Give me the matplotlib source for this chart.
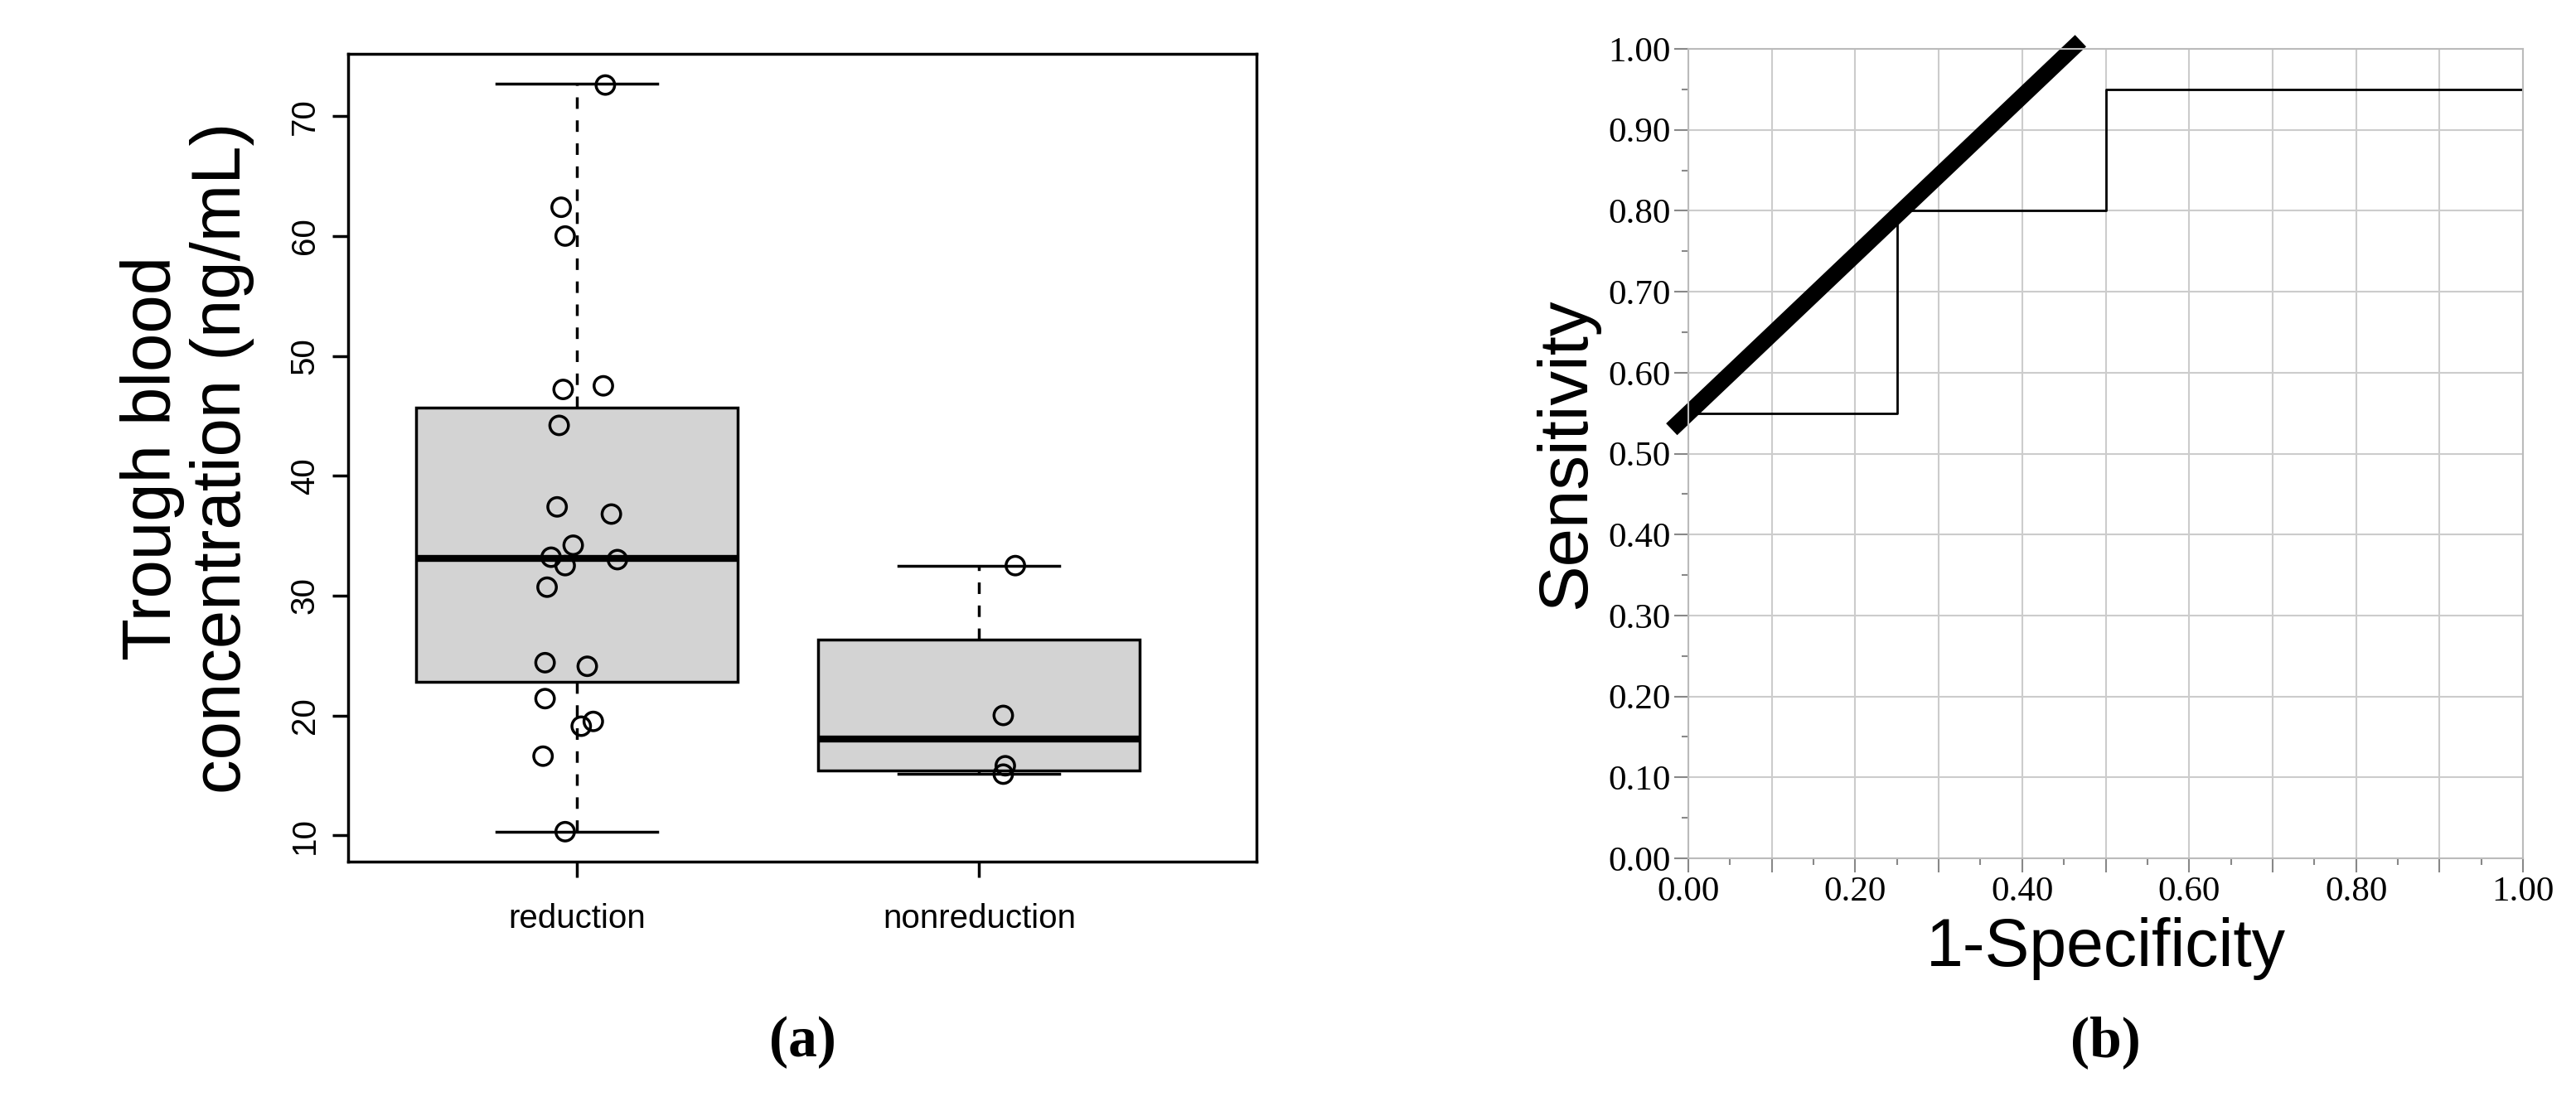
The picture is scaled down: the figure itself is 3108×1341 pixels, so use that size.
import numpy as np
import matplotlib.pyplot as plt

plt.rcParams['font.family'] = ['Liberation Sans', 'DejaVu Sans']

# panel (a) data
red_vals = [72.6, 62.4, 60.0, 47.2, 47.5, 44.2, 37.4, 36.8, 34.2, 33.2, 33.0, 32.5,
            30.7, 24.4, 24.1, 21.4, 19.5, 19.1, 16.6, 10.3]
red_jit = [0.07, -0.04, -0.03, -0.035, 0.065, -0.045, -0.05, 0.085, -0.01, -0.065, 0.1,
           -0.03, -0.075, -0.08, 0.025, -0.08, 0.04, 0.01, -0.085, -0.03]
non_vals = [32.5, 20.0, 15.8, 15.1]
non_jit = [0.09, 0.06, 0.065, 0.06]
groups = ["reduction", "nonreduction"]
stats = [dict(whislo=10.3, q1=22.8, med=33.1, q3=45.7, whishi=72.7, fliers=[]),
         dict(whislo=15.1, q1=15.4, med=18.0, q3=26.3, whishi=32.5, fliers=[])]

# panel (b) data
roc_x = [0.0, 0.25, 0.25, 0.5, 0.5, 1.0]
roc_y = [0.55, 0.55, 0.8, 0.8, 0.95, 0.95]
thick_x = [-0.02, 0.47]
thick_y = [0.53, 1.01]

fig = plt.figure(figsize=(31.08, 13.41), dpi=100)
W, H = 3108, 1341

ax1 = fig.add_axes([420 / W, 1 - 1040 / H, 1096 / W, 975 / H])
for s in ax1.spines.values():
    s.set_linewidth(2.5)
ax1.bxp(stats, positions=[1, 2], widths=0.8, patch_artist=True, showfliers=False,
        boxprops=dict(facecolor="#d3d3d3", edgecolor="black", linewidth=2.5),
        medianprops=dict(color="black", linewidth=6),
        whiskerprops=dict(color="black", linestyle=(0, (4, 4)), linewidth=2.5),
        capprops=dict(color="black", linewidth=2.5), capwidths=0.4)
ax1.scatter(1 + np.array(red_jit), red_vals, s=260, facecolors="none", edgecolors="black",
            linewidths=2.5, zorder=5)
ax1.scatter(2 + np.array(non_jit), non_vals, s=260, facecolors="none", edgecolors="black",
            linewidths=2.5, zorder=5)
ax1.set_xlim(0.43, 2.69)
ax1.set_ylim(7.8, 75.2)
ax1.set_yticks([10, 20, 30, 40, 50, 60, 70])
ax1.set_xticks([1, 2])
ax1.set_xticklabels(groups)
ax1.tick_params(axis="y", labelsize=29, rotation=90, width=2.5, length=14, pad=10)
ax1.tick_params(axis="x", labelsize=29, width=2.5, length=14, pad=22)
for t in ax1.get_yticklabels():
    t.set_va("center")
ax1.set_ylabel("Trough blood\nconcentration (ng/mL)", fontsize=60, labelpad=30,
               linespacing=1.1)
fig.text((420 + 1516) / 2 / W, 1 - 1258 / H, "(a)", fontsize=50, family="Liberation Serif",
         weight="bold", ha="center", va="center")

ax2 = fig.add_axes([2037 / W, 1 - 1036 / H, 1007 / W, 977 / H])
ax2.set_xlim(0, 1)
ax2.set_ylim(0, 1)
ticks = np.arange(0, 1.01, 0.1)
ax2.set_xticks(ticks)
ax2.set_yticks(ticks)
ax2.set_xticks(np.arange(0.05, 1.0, 0.1), minor=True)
ax2.set_yticks(np.arange(0.05, 1.0, 0.1), minor=True)
ax2.set_xticklabels(["%.2f" % t if i % 2 == 0 else "" for i, t in enumerate(ticks)])
ax2.set_yticklabels(["%.2f" % t for t in ticks])
ax2.grid(True, color="#cccccc", linewidth=1.5)
for s in ax2.spines.values():
    s.set_color("#bbbbbb")
    s.set_linewidth(1.5)
ax2.tick_params(which="both", color="#888888", width=1.5, labelsize=31)
ax2.tick_params(which="major", length=12)
ax2.tick_params(which="minor", length=6)
for t in ax2.get_xticklabels() + ax2.get_yticklabels():
    t.set_family("Liberation Serif")
ax2.plot(roc_x, roc_y, color="black", linewidth=2)
ax2.plot(thick_x, thick_y, color="black", linewidth=14, clip_on=False, solid_capstyle="butt")
ax2.set_xlabel("1-Specificity", fontsize=58, labelpad=8)
ax2.set_ylabel("Sensitivity", fontsize=60, labelpad=8)
fig.text((2037 + 3044) / 2 / W, 1 - 1258 / H, "(b)", fontsize=50, family="Liberation Serif",
         weight="bold", ha="center", va="center")

fig.savefig("out.png", dpi=100)
